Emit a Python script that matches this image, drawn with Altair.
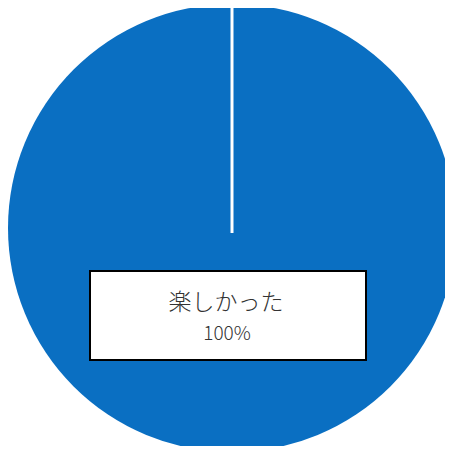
import altair as alt
import pandas as pd

categories = ["楽しかった"]
values = [100]
labels = ["100%"]

df = pd.DataFrame({"category": categories, "value": values, "label": labels})

W, H = 437, 438
CX, CY = 224, 220
R = 224

pie = alt.Chart(df).mark_arc(outerRadius=R, color="#0A6FC2", stroke=None).encode(
    theta=alt.Theta("value:Q", stack=True),
    x=alt.value(CX),
    y=alt.value(CY),
)

sep = alt.Chart(df).mark_rule(color="white", strokeWidth=3).encode(
    x=alt.value(CX),
    y=alt.value(CY - R - 5),
    y2=alt.value(CY + 5),
)

box = alt.Chart(df).mark_rect(fill="white", stroke="black", strokeWidth=2).encode(
    x=alt.value(82),
    x2=alt.value(358),
    y=alt.value(263),
    y2=alt.value(352),
)

cat_text = alt.Chart(df).mark_text(
    font="Noto Sans CJK JP", fontSize=23, fontWeight=300, color="#333333",
    baseline="middle", align="center"
).encode(text="category:N", x=alt.value(218), y=alt.value(295))

pct_text = alt.Chart(df).mark_text(
    font="Noto Sans CJK JP", fontSize=19, fontWeight=300,
    color="#333333", baseline="middle", align="center"
).encode(text="label:N", x=alt.value(219), y=alt.value(326))

chart = alt.layer(pie, sep, box, cat_text, pct_text).properties(
    width=W, height=H, padding=0, autosize=alt.AutoSizeParams(type="none")
).configure_view(stroke=None)

chart.save("out.html", embed_options={"renderer": "svg", "actions": False})
